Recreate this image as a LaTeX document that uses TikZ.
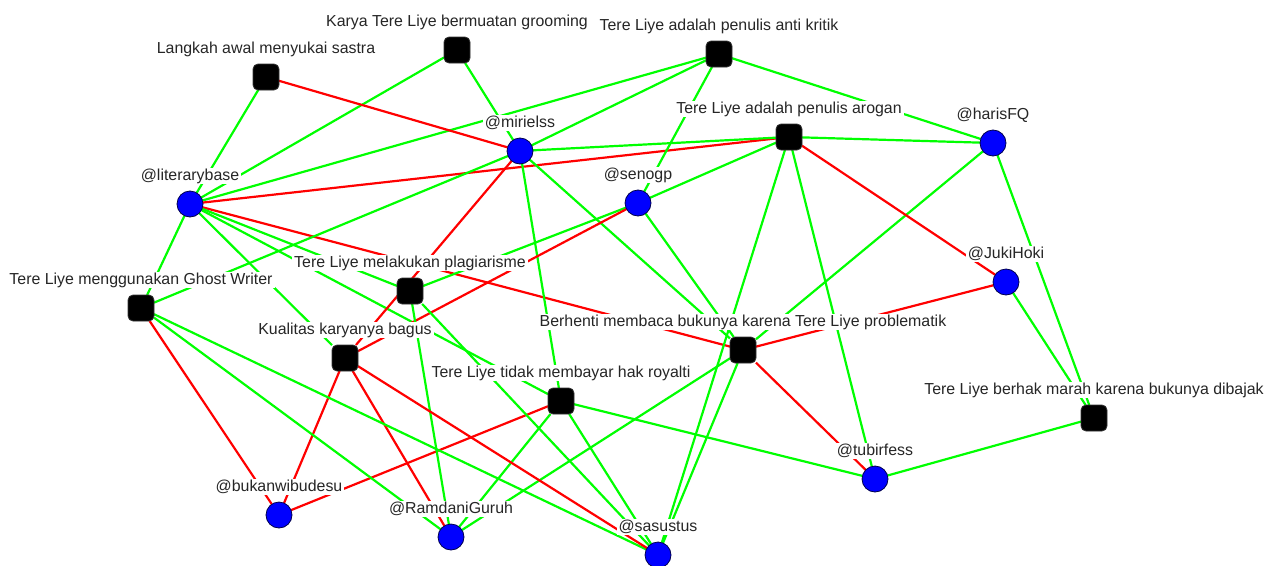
\documentclass[tikz,border=0pt]{standalone}
\usepackage{fontspec}
\setmainfont{Liberation Sans}
\usetikzlibrary{backgrounds}
\definecolor{eg}{RGB}{0,255,0}
\definecolor{er}{RGB}{255,0,0}
\definecolor{ublue}{RGB}{0,0,255}
\begin{document}
\begin{tikzpicture}[x=1pt,y=-1pt,
  user/.style={circle, draw=black!70!blue, line width=0.8pt, fill=ublue, minimum size=26pt, inner sep=0pt, outer sep=0pt},
  stmt/.style={rectangle, rounded corners=5pt, draw=black!80, line width=0.8pt, fill=black, minimum size=26pt, inner sep=0pt, outer sep=0pt},
  lbl/.style={fill=white, inner xsep=2pt, inner ysep=1pt, text height=11pt, text depth=3pt, font=\fontsize{15.9}{18}\selectfont, text=black!85},
  every label/.style={lbl},
  label distance=6.5pt,
  ge/.style={draw=eg, line width=2.2pt},
  re/.style={draw=er, line width=2.2pt}]
\useasboundingbox (0,0) rectangle (1274,565);
% statements
\node[stmt, label={above:Langkah awal menyukai sastra}] (langkah) at (266,77) {};
\node[stmt, label={above:Karya Tere Liye bermuatan grooming}] (karya) at (457,50) {};
\node[stmt, label={above:Tere Liye adalah penulis anti kritik}] (anti) at (719,54) {};
\node[stmt, label={above:Tere Liye adalah penulis arogan}] (arogan) at (789,137) {};
\node[stmt, label={above:Tere Liye melakukan plagiarisme}] (plagiat) at (410,291) {};
\node[stmt, label={above:Tere Liye menggunakan Ghost Writer}] (ghost) at (141,308) {};
\node[stmt, label={above:Kualitas karyanya bagus}] (kualitas) at (345,358) {};
\node[stmt, label={above:Tere Liye tidak membayar hak royalti}] (royalti) at (561,401) {};
\node[stmt, label={above:Berhenti membaca bukunya karena Tere Liye problematik}] (berhenti) at (743,350) {};
\node[stmt, label={above:Tere Liye berhak marah karena bukunya dibajak}] (berhak) at (1094,418) {};
% users
\node[user, label={above:@literarybase}] (literary) at (190,204) {};
\node[user, label={above:@mirielss}] (mirielss) at (520,151) {};
\node[user, label={above:@senogp}] (senogp) at (638,203) {};
\node[user, label={above:@harisFQ}] (haris) at (993,143) {};
\node[user, label={above:@JukiHoki}] (juki) at (1006,282) {};
\node[user, label={above:@tubirfess}] (tubir) at (875,479) {};
\node[user, label={above:@bukanwibudesu}] (bukan) at (279,515) {};
\node[user, label={above:@RamdaniGuruh}] (ramdani) at (451,537) {};
\node[user, label={above:@sasustus}] (sasus) at (658,555) {};
\begin{pgfonlayer}{background}
% literarybase
\draw[ge] (literary) -- (langkah);
\draw[ge] (literary) -- (karya);
\draw[ge] (literary) -- (anti);
\draw[re] (literary) -- (arogan);
\draw[re] (literary) -- (berhenti);
\draw[ge] (literary) -- (plagiat);
\draw[ge] (literary) -- (royalti);
\draw[ge] (literary) -- (kualitas);
\draw[ge] (literary) -- (ghost);
% mirielss
\draw[ge] (mirielss) -- (karya);
\draw[re] (mirielss) -- (langkah);
\draw[ge] (mirielss) -- (anti);
\draw[ge] (mirielss) -- (arogan);
\draw[ge] (mirielss) -- (ghost);
\draw[re] (mirielss) -- (kualitas);
\draw[ge] (mirielss) -- (royalti);
\draw[ge] (mirielss) -- (berhenti);
% senogp
\draw[ge] (senogp) -- (anti);
\draw[ge] (senogp) -- (arogan);
\draw[ge] (senogp) -- (plagiat);
\draw[re] (senogp) -- (kualitas);
\draw[ge] (senogp) -- (berhenti);
% harisFQ
\draw[ge] (haris) -- (anti);
\draw[ge] (haris) -- (arogan);
\draw[ge] (haris) -- (berhenti);
\draw[ge] (haris) -- (berhak);
% JukiHoki
\draw[re] (juki) -- (arogan);
\draw[re] (juki) -- (berhenti);
\draw[ge] (juki) -- (berhak);
% tubirfess
\draw[ge] (tubir) -- (arogan);
\draw[re] (tubir) -- (berhenti);
\draw[ge] (tubir) -- (royalti);
\draw[ge] (tubir) -- (berhak);
% bukanwibudesu
\draw[re] (bukan) -- (ghost);
\draw[re] (bukan) -- (kualitas);
\draw[re] (bukan) -- (royalti);
% RamdaniGuruh
\draw[ge] (ramdani) -- (ghost);
\draw[re] (ramdani) -- (kualitas);
\draw[ge] (ramdani) -- (plagiat);
\draw[ge] (ramdani) -- (royalti);
\draw[ge] (ramdani) -- (berhenti);
% sasustus
\draw[ge] (sasus) -- (ghost);
\draw[re] (sasus) -- (kualitas);
\draw[ge] (sasus) -- (plagiat);
\draw[ge] (sasus) -- (royalti);
\draw[ge] (sasus) -- (berhenti);
\draw[ge] (sasus) -- (arogan);
\end{pgfonlayer}
\end{tikzpicture}
\end{document}
